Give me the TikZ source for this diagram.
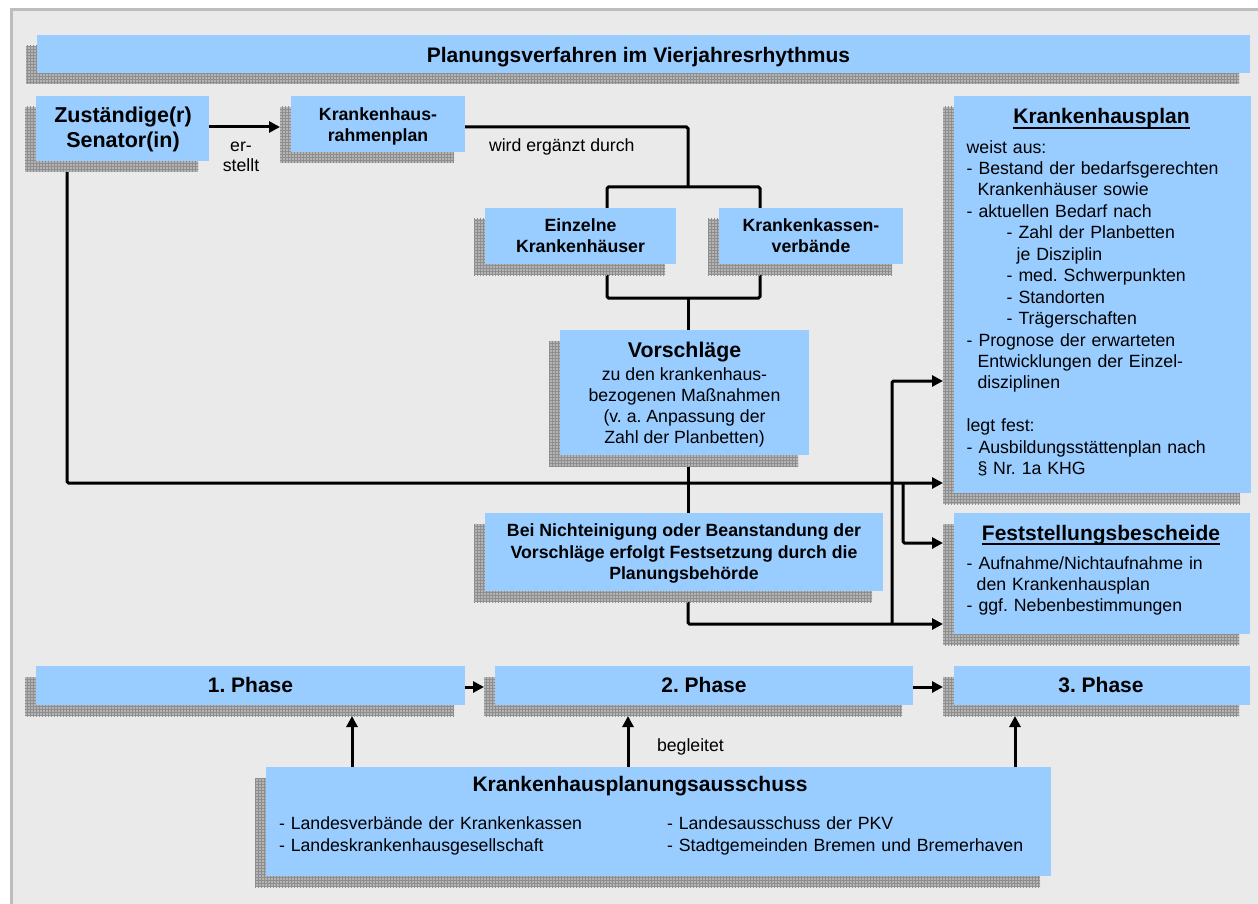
\documentclass[tikz,border=0pt]{standalone}
\usepackage{fontspec}
\setmainfont{Liberation Sans}
\frenchspacing
\usetikzlibrary{arrows.meta,shadows,patterns}
\definecolor{boxblue}{HTML}{99CCFF}
\definecolor{panelgray}{HTML}{EAEAEA}
\definecolor{bordergray}{HTML}{BDBDBD}
\definecolor{shadowfill}{HTML}{B4B4B4}
\definecolor{shadowline}{HTML}{8E8E8E}
\pgfdeclarelayer{background}
\pgfsetlayers{background,main}
\newsavebox\ulbox
\newcommand\kpunder[1]{\sbox\ulbox{#1}\rlap{\rule[-4.8pt]{\wd\ulbox}{2.2pt}}\usebox\ulbox}
\newcommand\fhead{\bfseries\fontsize{21pt}{25pt}\selectfont}
\newcommand\fsen{\bfseries\fontsize{21.5pt}{25pt}\selectfont}
\newcommand\fsb{\bfseries\fontsize{17.7pt}{21.5pt}\selectfont}
\newcommand\fnorm{\fontsize{17.7pt}{21.45pt}\selectfont}
\begin{document}
\begin{tikzpicture}[x=1pt,y=-1pt,
  box/.style={fill=boxblue, inner sep=0pt, outer sep=0pt,
    general shadow={shadow xshift=-11pt,shadow yshift=-11pt,fill=shadowfill},
    general shadow={shadow xshift=-11pt,shadow yshift=-11pt,pattern=grid,pattern color=shadowline}},
  txt/.style={inner sep=0pt, outer sep=0pt},
  conn/.style={line width=3pt, rounded corners=1.5pt},
  arr/.style={conn, -{Triangle[length=11pt,width=11pt]}}]
\useasboundingbox (0,0) rectangle (1258,904);

% boxes
\node[box, minimum width=1213pt, minimum height=38pt] (title) at (643.5,54) {};
\node[box, minimum width=173pt, minimum height=65pt] (sen) at (122.5,128.5) {};
\node[box, minimum width=174pt, minimum height=56pt] (rahmen) at (378,124) {};
\node[box, minimum width=191pt, minimum height=56pt] (einzel) at (580.5,236) {};
\node[box, minimum width=184pt, minimum height=56pt] (kassen) at (811,236) {};
\node[box, minimum width=249pt, minimum height=125pt] (vorschl) at (684.5,392.5) {};
\node[box, minimum width=398pt, minimum height=78pt] (nicht) at (684,552) {};
\node[box, minimum width=297pt, minimum height=397pt] (khplan) at (1102.5,294.5) {};
\node[box, minimum width=296pt, minimum height=121pt] (fest) at (1102,573.5) {};
\node[box, minimum width=429pt, minimum height=39pt] (ph1) at (250.5,685.5) {};
\node[box, minimum width=418pt, minimum height=39pt] (ph2) at (704,685.5) {};
\node[box, minimum width=296pt, minimum height=39pt] (ph3) at (1102,685.5) {};
\node[box, minimum width=785pt, minimum height=109pt] (aus) at (658.5,821.5) {};

% texts
\node[txt, font=\fhead, anchor=base] (titleT) at (638.5,62.3) {Planungsverfahren im Vierjahresrhythmus};
\node[txt, font=\fsen, align=center, anchor=north] (senT) at (123,105.5) {\strut Zuständige(r)\\Senator(in)};
\node[txt, font={\fontsize{17.7pt}{20pt}\selectfont}, align=center, anchor=north] (erst) at (241,137.7) {\strut er-\\stellt};
\node[txt, font=\fsb, align=center, anchor=north] (rahmenT) at (378,105) {\strut Krankenhaus-\\rahmenplan};
\node[txt, font=\fnorm, anchor=base west] (ergT) at (489,152) {wird ergänzt durch};
\node[txt, font={\bfseries\fontsize{17.7pt}{21pt}\selectfont}, align=center, anchor=north] (einzelT) at (580.5,217) {\strut Einzelne\\Krankenhäuser};
\node[txt, font={\bfseries\fontsize{17.7pt}{21pt}\selectfont}, align=center, anchor=north] (kassenT) at (811,217) {\strut Krankenkassen-\\verbände};
\node[txt, font={\bfseries\fontsize{21.3pt}{25pt}\selectfont}, anchor=base] (vorT) at (684.5,357.3) {Vorschläge};
\node[txt, font={\fontsize{17.7pt}{21.3pt}\selectfont}, align=center, anchor=north] (vorB) at (684.5,365.1) {\strut zu den krankenhaus-\\bezogenen Maßnahmen\\(v. a. Anpassung der\\Zahl der Planbetten)};
\node[txt, font={\bfseries\fontsize{17.7pt}{21.65pt}\selectfont}, align=center, anchor=north] (nichtT) at (684,521.5) {\strut Bei Nichteinigung oder Beanstandung der\\Vorschläge erfolgt Festsetzung durch die\\Planungsbehörde};

\node[txt, font=\fhead, anchor=base] (khT) at (1101.5,124) {\kpunder{Krankenhausplan}};
\node[txt, font=\fnorm, text width=282pt, align=left, anchor=north west] (khL) at (966.7,138) {\strut weist aus:\\
- Bestand der bedarfsgerechten\\
\hspace*{10.8pt}Krankenhäuser sowie\\
- aktuellen Bedarf nach\\
\hspace*{40pt}- Zahl der Planbetten\\
\hspace*{50pt}je Disziplin\\
\hspace*{40pt}- med. Schwerpunkten\\
\hspace*{40pt}- Standorten\\
\hspace*{40pt}- Trägerschaften\\
- Prognose der erwarteten\\
\hspace*{10.8pt}Entwicklungen der Einzel-\\
\hspace*{10.8pt}disziplinen\\
\strut\\
legt fest:\\
- Ausbildungsstättenplan nach\\
\hspace*{10.8pt}§ Nr. 1a KHG};

\node[txt, font=\fhead, anchor=base] (festT) at (1101,540) {\kpunder{Feststellungsbescheide}};
\node[txt, font=\fnorm, text width=282pt, align=left, anchor=north west] (festL) at (966.7,554) {\strut - Aufnahme/Nichtaufnahme in\\
\hspace*{10pt}den Krankenhausplan\\
- ggf. Nebenbestimmungen};

\node[txt, font=\fhead, anchor=base] (ph1T) at (250.5,692) {1. Phase};
\node[txt, font=\fhead, anchor=base] (ph2T) at (704,692) {2. Phase};
\node[txt, font=\fhead, anchor=base] (ph3T) at (1101,692) {3. Phase};
\node[txt, font=\fnorm, anchor=base west] (begT) at (657,751) {begleitet};

\node[txt, font=\fhead, anchor=base] (ausT) at (640,791.7) {Krankenhausplanungsausschuss};
\node[txt, font={\fontsize{17.7pt}{21.5pt}\selectfont}, text width=370pt, align=left, anchor=north west] (ausL) at (279,814.5) {\strut - Landesverbände der Krankenkassen\\- Landeskrankenhausgesellschaft};
\node[txt, font={\fontsize{17.7pt}{21.5pt}\selectfont}, text width=370pt, align=left, anchor=north west] (ausR) at (667,814.5) {\strut - Landesausschuss der PKV\\- Stadtgemeinden Bremen und Bremerhaven};

% junction points of the connector network
\coordinate (jTop) at (688,187);
\coordinate (bl) at (607,187);
\coordinate (br) at (760,187);
\coordinate (bl2) at (607,298);
\coordinate (br2) at (760,298);
\coordinate (jMid) at (688,298);
\coordinate (lv) at (67,483);
\coordinate (jB) at (903,483);
\coordinate (jC) at (892,624);
\coordinate (a1) at (352,760);
\coordinate (a2) at (628,760);
\coordinate (a3) at (1015,760);
\coordinate (senE) at ([yshift=1.5pt]sen.east);
\coordinate (rahmenE) at ([yshift=-3pt]rahmen.east);
\coordinate (rahmenS) at ([xshift=-11pt]rahmen.west);
\coordinate (khW) at ([xshift=-11pt]khplan.west);
\coordinate (khUp) at ([xshift=-11pt,yshift=-86.5pt]khplan.west);
\coordinate (festUp) at ([xshift=-11pt,yshift=30.5pt]fest.west);
\coordinate (festLow) at ([xshift=-11pt,yshift=-50.5pt]fest.west);
\coordinate (ph1E) at ([yshift=-1.5pt]ph1.east);
\coordinate (ph2E) at ([yshift=-1.5pt]ph2.east);
\coordinate (ph2W) at ([xshift=-11pt]ph2.west);
\coordinate (ph3W) at ([xshift=-11pt]ph3.west);
\coordinate (ph1S) at ([yshift=-11pt]ph1.south);
\coordinate (ph2S) at ([yshift=-11pt]ph2.south);
\coordinate (ph3S) at ([yshift=-11pt]ph3.south);

\begin{pgfonlayer}{background}
  % sheet and panel
  \fill[white] (0,0) rectangle (1258,904);
  \fill[panelgray] (10,8) rectangle (1258,904);
  \draw[bordergray, line width=3pt] (11.5,904) -- (11.5,9.5) -- (1258,9.5);

  % connectors
  \draw[arr] (senE) -- (senE -| rahmenS);
  \draw[conn] (rahmenE) -| (jTop);
  \draw[conn] (einzel.north -| bl) |- (br) -- (kassen.north -| br);
  \draw[conn] (einzel.south -| bl2) |- (br2) -- (kassen.south -| br2);
  \draw[conn] (jMid) -- (vorschl.north -| jMid);
  \draw[conn] (vorschl.south -| jMid) -- (nicht.north -| jMid);
  \draw[arr] (nicht.south -| jMid) |- (festLow);
  \draw[arr] (sen.south -| lv) -- (lv) -- (lv -| khW);
  \draw[arr] (jB) |- (festUp);
  \draw[arr] (jC) |- (khUp);
  \draw[arr] (ph1E) -- (ph1E -| ph2W);
  \draw[arr] (ph2E) -- (ph2E -| ph3W);
  \draw[arr] (aus.north -| a1) -- (a1 |- ph1S);
  \draw[arr] (aus.north -| a2) -- (a2 |- ph2S);
  \draw[arr] (aus.north -| a3) -- (a3 |- ph3S);
\end{pgfonlayer}
\end{tikzpicture}
\end{document}
